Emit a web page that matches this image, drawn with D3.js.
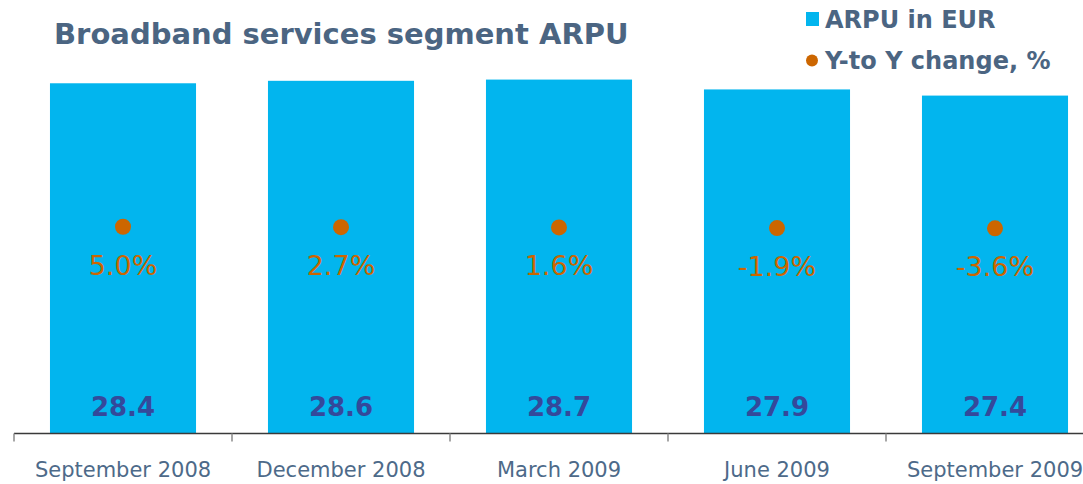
<!DOCTYPE html>
<html>
<head>
<meta charset="utf-8">
<script src="https://cdn.jsdelivr.net/npm/d3@7"></script>
<style>
  body { margin: 0; background: #fff; }
  svg { display: block; font-family: "DejaVu Sans", Verdana, sans-serif; }
</style>
</head>
<body>
<svg id="chart"></svg>
<script>
// chart data
var categories = ["September 2008", "December 2008", "March 2009", "June 2009", "September 2009"];
var arpu = [28.4, 28.6, 28.7, 27.9, 27.4];
var yoyChange = [5.0, 2.7, 1.6, -1.9, -3.6];
var legendLabels = ["ARPU in EUR", "Y-to Y change, %"];

var width = 1083, height = 484;
var barColor = "#02b5ee", dotColor = "#cc6600", textColor = "#4b6582";

var svg = d3.select("#chart")
    .attr("width", width)
    .attr("height", height);

// band scale: bars 146px in 218px steps, starting at x=14
var x = d3.scaleBand()
    .domain(categories)
    .range([14, 1104])
    .paddingInner(0.33)
    .paddingOuter(0.165);

var y = d3.scaleLinear()     //ARPU axis (hidden)
    .domain([0, 35])
    .range([433, 2]);

var y2 = d3.scaleLinear()    //change axis (hidden, very wide range)
    .domain([-1100, 1220])
    .range([433, 0]);

// bars
svg.append("g").selectAll("rect")
    .data(arpu)
    .enter()
    .append("rect")
    .attr("x", (d, i) => x(categories[i]))
    .attr("y", d => y(d))
    .attr("width", x.bandwidth())
    .attr("height", d => y(0) - y(d))
    .attr("fill", barColor);

// ARPU values inside bars
svg.append("g").selectAll("text")
    .data(arpu)
    .enter()
    .append("text")
    .attr("x", (d, i) => x(categories[i]) + x.bandwidth() / 2)
    .attr("y", 416)
    .attr("text-anchor", "middle")
    .attr("font-size", "26px")
    .attr("font-weight", "bold")
    .attr("fill", "#34499b")
    .text(d => d.toFixed(1));

// change dots + labels
svg.append("g").selectAll("circle")
    .data(yoyChange)
    .enter()
    .append("circle")
    .attr("cx", (d, i) => x(categories[i]) + x.bandwidth() / 2)
    .attr("cy", d => y2(d))
    .attr("r", 8)
    .attr("fill", dotColor);

svg.append("g").selectAll("text")
    .data(yoyChange)
    .enter()
    .append("text")
    .attr("x", (d, i) => x(categories[i]) + x.bandwidth() / 2)
    .attr("y", d => y2(d) + 48)
    .attr("text-anchor", "middle")
    .attr("font-size", "27px")
    .attr("fill", dotColor)
    .text(d => d.toFixed(1) + "%");

// category axis
var axis = svg.append("g")
    .attr("transform", "translate(0,433.5)")
    .call(d3.axisBottom(x).tickSize(0).tickPadding(0));
axis.select(".domain").remove();
axis.selectAll("text")
    .attr("y", 43.5)
    .attr("dy", 0)
    .attr("font-size", "21px")
    .attr("font-family", "DejaVu Sans, Verdana, sans-serif")
    .attr("fill", "#4d6a89");

axis.append("line")
    .attr("x1", 14).attr("x2", width)
    .attr("stroke", "#3a3a3a")
    .attr("stroke-width", 1.5);

// separators between categories
var gap = (x.step() - x.bandwidth()) / 2;
axis.selectAll(".sep")
    .data(categories)
    .enter()
    .append("line")
    .attr("class", "sep")
    .attr("x1", d => x(d) - gap)
    .attr("x2", d => x(d) - gap)
    .attr("y1", 0).attr("y2", 8)
    .attr("stroke", "#8a8a8a")
    .attr("stroke-width", 1.5);

// title
svg.append("text")
    .attr("x", 54)
    .attr("y", 44)
    .attr("font-size", "29px")
    .attr("font-weight", "bold")
    .attr("fill", textColor)
    .text("Broadband services segment ARPU");

// legend
var legend = svg.append("g");
legend.append("rect")
    .attr("x", 806).attr("y", 12)
    .attr("width", 13).attr("height", 14)
    .attr("fill", barColor);
legend.append("circle")
    .attr("cx", 812).attr("cy", 60.5)
    .attr("r", 6)
    .attr("fill", dotColor);
legend.selectAll("text")
    .data(legendLabels)
    .enter()
    .append("text")
    .attr("x", 825)
    .attr("y", (d, i) => 28 + i * 41)
    .attr("font-size", "24px")
    .attr("font-weight", "bold")
    .attr("fill", textColor)
    .text(d => d);
</script>
</body>
</html>
